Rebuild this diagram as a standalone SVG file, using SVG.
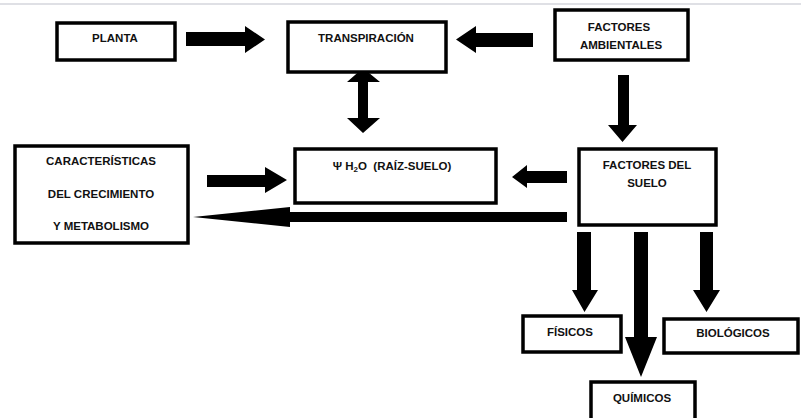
<svg xmlns="http://www.w3.org/2000/svg" width="801" height="418" viewBox="0 0 801 418">
<style>
.box{fill:#fff;stroke:#000;stroke-width:3.5}
.t{font-family:"Liberation Sans",Arial,sans-serif;font-weight:bold;font-size:11.5px;fill:#111;text-anchor:middle}
.arr{fill:#000}
</style>
<rect width="801" height="418" fill="#fff"/>
<line x1="0" y1="4" x2="801" y2="4" stroke="#d4d6dc" stroke-width="1.5"/>
<g id="connectors">
<polygon class="arr" points="186,32 245,32 245,26 265,39.5 245,53 245,46 186,46"/>
<polygon class="arr" points="533,33 476,33 476,26 456,39.5 476,53 476,47 533,47"/>
<polygon class="arr" points="363,68 380,82 368,82 368,118 380,118 363,133 347,118 358,118 358,82 347,82"/>
<polygon class="arr" points="618,75 629,75 629,125 637,125 622.5,142 608,125 618,125"/>
<polygon class="arr" points="207,175 265,175 265,167 287,180 265,193 265,187 207,187"/>
<polygon class="arr" points="567,171 527,171 527,165 512,177 527,188 527,183 567,183"/>
<polygon class="arr" points="567,212 290,212 290,207 193,217 290,227 290,222 567,222"/>
<polygon class="arr" points="577,232 591,232 591,290 598,290 584.5,312 572,290 577,290"/>
<polygon class="arr" points="634,232 648,232 648,337 657,337 641,377 625,337 634,337"/>
<polygon class="arr" points="700,232 713,232 713,290 720,290 706.5,312 693,290 700,290"/>
</g>
<g id="planta"><rect class="box" x="57" y="23" width="118" height="37"/><text class="t" x="115" y="42">PLANTA</text></g>
<g id="transpiracion"><rect class="box" x="288" y="22" width="158" height="50"/><text class="t" x="366" y="42">TRANSPIRACIÓN</text></g>
<g id="ambientales"><rect class="box" x="555" y="10" width="133" height="50"/><text class="t" x="619" y="31">FACTORES</text><text class="t" x="621" y="49">AMBIENTALES</text></g>
<g id="caracteristicas"><rect class="box" x="15" y="146" width="173" height="97"/><text class="t" x="101" y="165">CARACTERÍSTICAS</text><text class="t" x="101" y="198">DEL CRECIMIENTO</text><text class="t" x="101" y="230">Y METABOLISMO</text></g>
<g id="psi"><rect class="box" x="295" y="149" width="201" height="54"/><text class="t" x="392" y="170" xml:space="preserve">Ψ H<tspan font-size="8" dy="2">2</tspan><tspan dy="-2">O  (RAÍZ-SUELO)</tspan></text></g>
<g id="suelo"><rect class="box" x="579" y="149" width="137" height="76"/><text class="t" x="647" y="169">FACTORES DEL</text><text class="t" x="647" y="187">SUELO</text></g>
<g id="fisicos"><rect class="box" x="523" y="316" width="98" height="36"/><text class="t" x="570" y="336">FÍSICOS</text></g>
<g id="biologicos"><rect class="box" x="664" y="319" width="134" height="34"/><text class="t" x="733" y="337">BIOLÓGICOS</text></g>
<g id="quimicos"><rect class="box" x="591" y="382" width="104" height="50"/><text class="t" x="642" y="402">QUÍMICOS</text></g>
</svg>
